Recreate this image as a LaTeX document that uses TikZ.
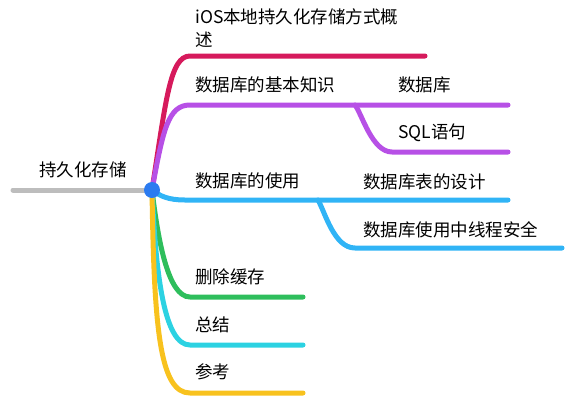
\documentclass[tikz,border=0pt]{standalone}
\usepackage{fontspec}
\setmainfont{Noto Sans CJK SC}
\usetikzlibrary{positioning}

\definecolor{mmgray}{HTML}{BDBDBD}
\definecolor{mmhub}{HTML}{2B7BF0}
\definecolor{mmred}{HTML}{D61A5C}
\definecolor{mmpurple}{HTML}{B750E6}
\definecolor{mmblue}{HTML}{30B4F6}
\definecolor{mmgreen}{HTML}{2EBE5C}
\definecolor{mmcyan}{HTML}{2CD2E2}
\definecolor{mmyellow}{HTML}{F8C21E}

\begin{document}
\begin{tikzpicture}[
    x=1pt, y=-1pt,
    branch/.style={line width=5pt, line cap=round},
    topic/.style={anchor=west, inner sep=0pt, align=left, font=\fontsize{17.5}{23}\selectfont},
    hubmark/.style={circle, fill=mmhub, minimum size=16pt, inner sep=0pt}
]
    \useasboundingbox (0,0) rectangle (572,407);

    % Topics
    \node[topic] (root) at (39,170) {持久化存储};
    \node[topic] (intro) at (195,28.5) {iOS本地持久化存储方式概\\述};
    \node[topic] (basics) at (195,85) {数据库的基本知识};
    \node[topic] (db) at (398,85) {数据库};
    \node[topic] (sql) at (398,133) {SQL语句};
    \node[topic] (usage) at (195,181) {数据库的使用};
    \node[topic] (tabledesign) at (363,182) {数据库表的设计};
    \node[topic] (threadsafe) at (363,230) {数据库使用中线程安全};
    \node[topic] (cache) at (195,277) {删除缓存};
    \node[topic] (summary) at (195,325) {总结};
    \node[topic] (refs) at (195,372) {参考};

    % Branch ends
    \coordinate (hub) at (152,190);
    \coordinate (rootend) at (13,190);
    \coordinate (introA) at (190,56);
    \coordinate (introB) at (425,56);
    \coordinate (basicsA) at (190,105);
    \coordinate (fork1) at (355,105);
    \coordinate (dbB) at (508,105);
    \coordinate (sqlA) at (392,152);
    \coordinate (sqlB) at (508,152);
    \coordinate (usageA) at (185,200);
    \coordinate (fork2) at (318,200);
    \coordinate (tableB) at (508,200);
    \coordinate (threadA) at (355,248);
    \coordinate (threadB) at (562,248);
    \coordinate (cacheA) at (190,297);
    \coordinate (cacheB) at (303,297);
    \coordinate (summaryA) at (190,345);
    \coordinate (summaryB) at (303,345);
    \coordinate (refsA) at (190,393);
    \coordinate (refsB) at (303,393);

    % Connections
    \draw[branch, mmgray] (rootend) -- (hub);
    \draw[branch, mmred] (hub) .. controls (166,100) and (170,56) .. (introA) -- (introB);
    \draw[branch, mmpurple] (hub) .. controls (163,130) and (168,105) .. (basicsA) -- (dbB);
    \draw[branch, mmpurple] (fork1) .. controls (362,114) and (372,152) .. (sqlA) -- (sqlB);
    \draw[branch, mmblue] (hub) .. controls (160,196) and (168,200) .. (usageA) -- (tableB);
    \draw[branch, mmblue] (fork2) .. controls (325,212) and (334,248) .. (threadA) -- (threadB);
    \draw[branch, mmgreen] (hub) .. controls (158,240) and (168,297) .. (cacheA) -- (cacheB);
    \draw[branch, mmcyan] (hub) .. controls (156,280) and (165,345) .. (summaryA) -- (summaryB);
    \draw[branch, mmyellow] (hub) .. controls (154,330) and (160,393) .. (refsA) -- (refsB);

    \node[hubmark] (dot) at (hub) {};

\end{tikzpicture}
\end{document}
